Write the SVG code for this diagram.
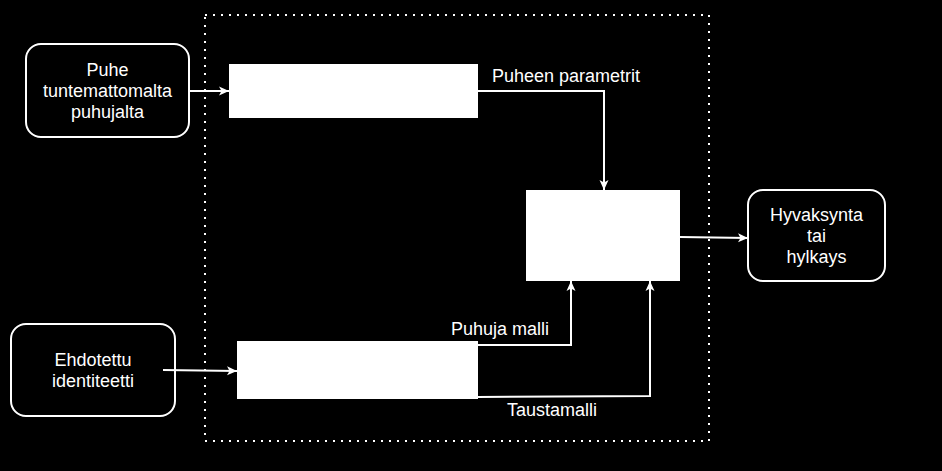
<svg xmlns="http://www.w3.org/2000/svg" width="942" height="471" viewBox="0 0 942 471">
<style>
.bg{fill:#000}
.node{fill:#000;stroke:#fff;stroke-width:2}
.box{fill:#fff;stroke:none}
.t{font-family:"Liberation Sans",Arial,sans-serif;font-size:18px;fill:#fff}
.c{text-anchor:middle}
.conn{fill:none;stroke:#fff;stroke-width:2}
.frame{fill:none;stroke:#fff;stroke-width:2;stroke-dasharray:2 6}
</style>
<defs>
<marker id="arr" viewBox="0 0 10 10" refX="10" refY="5" markerWidth="10" markerHeight="10" markerUnits="userSpaceOnUse" orient="auto">
<path d="M0,0.5 L10,5 L0,9.5 L2.5,5 Z" fill="#fff"/>
</marker>
</defs>
<rect class="bg" x="0" y="0" width="942" height="471"/>
<rect id="frame" class="frame" x="205" y="15" width="504" height="426"/>
<g id="n-puhe">
<rect class="node" x="26" y="44" width="163" height="93" rx="15"/>
<text class="t c" x="107.5" y="76">Puhe</text>
<text class="t c" x="107.5" y="97">tuntemattomalta</text>
<text class="t c" x="107.5" y="118">puhujalta</text>
</g>
<g id="n-ehdotettu">
<rect class="node" x="11" y="324" width="164" height="92" rx="15"/>
<text class="t c" x="93" y="366">Ehdotettu</text>
<text class="t c" x="93" y="387">identiteetti</text>
</g>
<g id="n-hyvaksynta">
<rect class="node" x="748" y="190" width="137" height="91" rx="15"/>
<text class="t c" x="816.5" y="221">Hyvaksynta</text>
<text class="t c" x="816.5" y="242">tai</text>
<text class="t c" x="816.5" y="263">hylkays</text>
</g>
<g id="n-param">
<rect class="box" x="229" y="64" width="249" height="54"/>
</g>
<g id="n-malli">
<rect class="box" x="237" y="341" width="241" height="58"/>
</g>
<g id="n-decision">
<rect class="box" x="526" y="190" width="154" height="91"/>
</g>
<g id="connectors">
<path class="conn" d="M189,91 L229,91" marker-end="url(#arr)"/>
<path class="conn" d="M163,370 L237,371" marker-end="url(#arr)"/>
<path class="conn" d="M478,91 L604,91 L604,190" marker-end="url(#arr)"/>
<path class="conn" d="M680,237 L748,238" marker-end="url(#arr)"/>
<path class="conn" d="M478,345 L571,345 L571,281" marker-end="url(#arr)"/>
<path class="conn" d="M478,397 L650,396 L650,281" marker-end="url(#arr)"/>
<text class="t" x="492" y="82">Puheen parametrit</text>
<text class="t" x="451" y="335">Puhuja malli</text>
<text class="t" x="507" y="416">Taustamalli</text>
</g>
</svg>
